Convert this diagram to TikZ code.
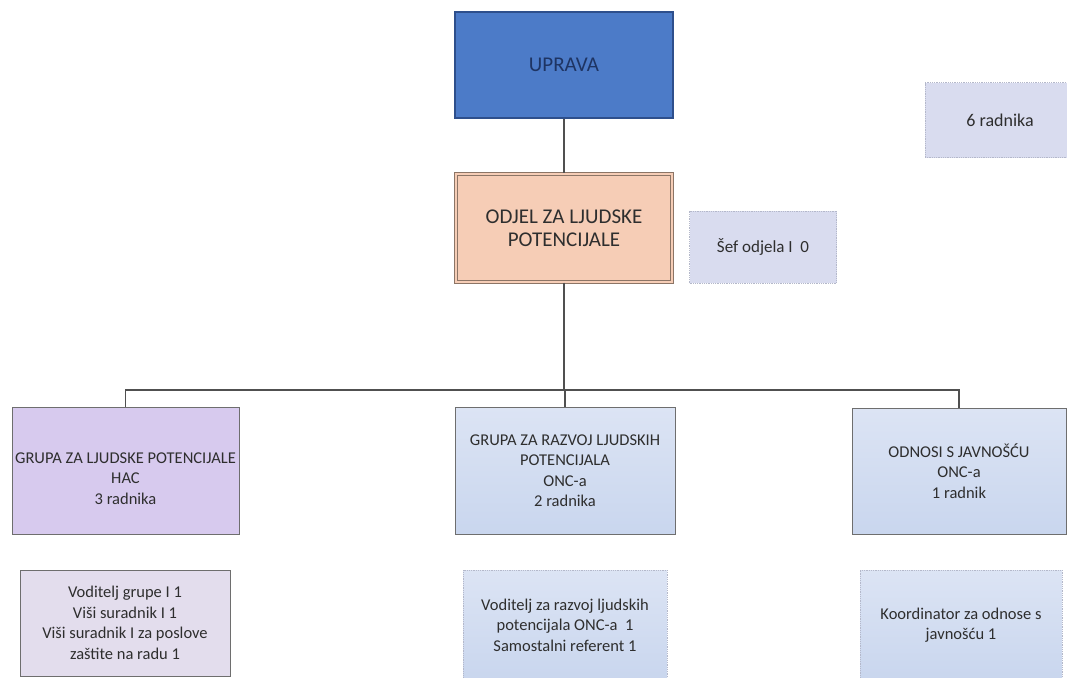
\documentclass[tikz,border=0pt]{standalone}
\usepackage{fontspec}
\setmainfont{Carlito}
\usetikzlibrary{shadings}
\definecolor{txt}{HTML}{2E2E2E}
\definecolor{uprfill}{HTML}{4C7BC8}
\definecolor{uprline}{HTML}{2E4F8C}
\definecolor{uprtxt}{HTML}{1E3463}
\definecolor{odjfill}{HTML}{F6CDB6}
\definecolor{odjline}{HTML}{8C7566}
\definecolor{paleblue}{HTML}{D9DCEF}
\definecolor{paleline}{HTML}{B4B8CA}
\definecolor{lavfill}{HTML}{D7CAEE}
\definecolor{bluetop}{HTML}{DCE4F4}
\definecolor{bluebot}{HTML}{C9D6EE}
\definecolor{greyline}{HTML}{6E6E6E}
\definecolor{lavgrey}{HTML}{E3DDED}
\definecolor{conncol}{HTML}{505050}
\tikzset{
  box/.style={rectangle, inner sep=2pt, align=center, text=txt, font=\fontsize{16.5}{20.5}\selectfont},
  upr/.style={box, fill=uprfill, draw=uprline, line width=1.6pt, text=uprtxt, font=\fontsize{21}{24}\selectfont},
  odj/.style={box, fill=odjfill, draw=odjline, line width=1.2pt, double=odjfill, double distance=1.2pt, font=\fontsize{21}{23}\selectfont},
  pale/.style={box, fill=paleblue, draw=paleline, densely dotted, line width=0.8pt, font=\fontsize{17}{20}\selectfont},
  grplav/.style={box, fill=lavfill, draw=greyline, line width=1pt},
  grpblue/.style={box, top color=bluetop, bottom color=bluebot, draw=greyline, line width=1pt},
  sublav/.style={box, fill=lavgrey, draw=greyline, line width=1pt},
  subblue/.style={box, top color=bluetop, bottom color=bluebot, draw=paleline, densely dotted, line width=0.8pt},
  conn/.style={draw=conncol, line width=1.6pt}
}
\begin{document}
\begin{tikzpicture}[x=1pt,y=-1pt]
\useasboundingbox (0,0) rectangle (1067,677);
\fill[white] (0,0) rectangle (1067,677);
% top
\node[upr, minimum width=218, minimum height=106] (upr) at (564,65) {UPRAVA};
\node[odj, minimum width=216, minimum height=108] (odj) at (564,228) {ODJEL ZA LJUDSKE\\POTENCIJALE};
\node[pale, minimum width=147, minimum height=72] (sef) at (763,247) {Šef odjela I\ \ 0};
\node[pale, minimum width=150, minimum height=75, font=\fontsize{18}{20}\selectfont] (rad) at (1000,120) {6 radnika};
% groups
\node[grplav, minimum width=227, minimum height=127] (lg) at (125.5,470.5) {\mbox{}\\[6pt]GRUPA ZA LJUDSKE POTENCIJALE\\HAC\\3 radnika};
\node[grpblue, minimum width=220, minimum height=127] (mg) at (565,470.5) {GRUPA ZA RAZVOJ LJUDSKIH\\POTENCIJALA\\ONC-a\\2 radnika};
\node[grpblue, minimum width=214, minimum height=126] (rg) at (959,471) {ODNOSI S JAVNOŠĆU\\ONC-a\\1 radnik};
% subs
\node[sublav, minimum width=210, minimum height=106] (ls) at (125,623) {Voditelj grupe I 1\\Viši suradnik I 1\\Viši suradnik I za poslove\\zaštite na radu 1};
\node[subblue, minimum width=204, minimum height=110] (ms) at (565,625) {Voditelj za razvoj ljudskih\\potencijala ONC-a\ \ 1\\Samostalni referent 1};
\node[subblue, minimum width=202, minimum height=110] (rs) at (961,625) {Koordinator za odnose s\\javnošću 1};
% connectors
\coordinate (bus) at (564,390);
\draw[conn] (upr.south) -- (odj.north);
\draw[conn] (odj.south) -- (bus);
\draw[conn] (lg.north) -- (lg.north |- bus) -- (rg.north |- bus) -- (rg.north);
\draw[conn] (mg.north) -- (mg.north |- bus);
\end{tikzpicture}
\end{document}
